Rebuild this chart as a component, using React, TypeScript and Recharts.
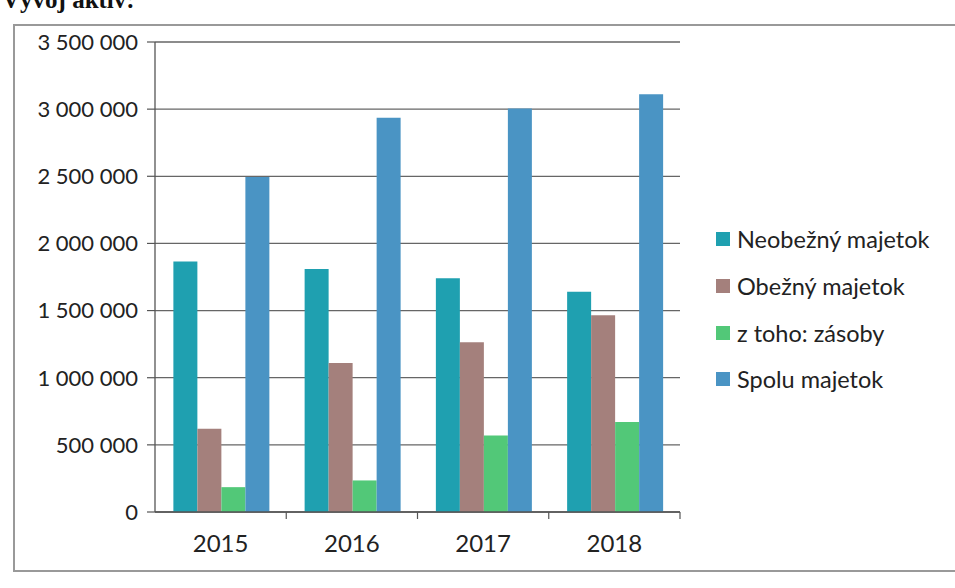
import React from "react";
import { BarChart, Bar, XAxis, YAxis, CartesianGrid } from "recharts";

const years = ["2015", "2016", "2017", "2018"];
const neobezny = [1865000, 1810000, 1740000, 1640000];
const obezny = [620000, 1110000, 1265000, 1465000];
const zasoby = [185000, 235000, 570000, 670000];
const spolu = [2495000, 2935000, 3005000, 3110000];
const yTicks = [0, 500000, 1000000, 1500000, 2000000, 2500000, 3000000, 3500000];

const seriesNames = ["Neobežný majetok", "Obežný majetok", "z toho: zásoby", "Spolu majetok"];
const seriesColors = ["#1FA0B0", "#A4807C", "#52C878", "#4A94C4"];

const data = years.map((y, i) => ({
  year: y,
  neobezny: neobezny[i],
  obezny: obezny[i],
  zasoby: zasoby[i],
  spolu: spolu[i],
}));
const keys = ["neobezny", "obezny", "zasoby", "spolu"];

const W = 955;
const H = 588;
const M = { top: 42, right: 275, bottom: 46, left: 0 };
const Y_W = 155;
const FONT = "Lato, 'Open Sans', sans-serif";

const fmt = (v: number) => String(v).replace(/\B(?=(\d{3})+(?!\d))/g, " ");

const halfBand = (W - M.left - M.right - Y_W) / years.length / 2;

const XTick = (props: any) => {
  const { x, y, payload } = props;
  return (
    <g>
      <line x1={x + halfBand} y1={y - 8} x2={x + halfBand} y2={y - 1} stroke="#555" strokeWidth={1.2} />
      <text x={x} y={y + 32} textAnchor="middle" fontSize={24} fill="#222" fontFamily={FONT}>
        {payload.value}
      </text>
    </g>
  );
};

export default function App() {
  return (
    <div style={{ position: "absolute", left: 0, top: 0, width: W, height: H, background: "#fff", overflow: "hidden" }}>
      <div
        style={{
          position: "absolute",
          left: 2,
          top: -14,
          fontFamily: "'Liberation Serif', 'DejaVu Serif', serif",
          fontWeight: "bold",
          fontSize: 25,
          color: "#111",
        }}
      >
        Vývoj aktív:
      </div>
      <div
        style={{
          position: "absolute",
          left: 13,
          top: 24,
          width: 960,
          height: 548,
          border: "2px solid #999",
          boxSizing: "border-box",
        }}
      />
      <div style={{ position: "absolute", left: 0, top: 0 }}>
        <BarChart width={W} height={H} data={data} margin={M} barCategoryGap="14%" barGap={0}>
          <CartesianGrid vertical={false} stroke="#666" strokeWidth={1.3} />
          <XAxis
            dataKey="year"
            axisLine={{ stroke: "#555", strokeWidth: 1.3 }}
            tickLine={false}
            tick={<XTick />}
            interval={0}
          />
          <YAxis
            width={Y_W}
            domain={[0, 3500000]}
            ticks={yTicks}
            tickFormatter={fmt}
            axisLine={{ stroke: "#555", strokeWidth: 1.3 }}
            tickLine={{ stroke: "#555", strokeWidth: 1.2 }}
            tickSize={8}
            tickMargin={9}
            tick={{ fontSize: 22, fill: "#222", fontFamily: FONT }}
          />
          {keys.map((k, i) => (
            <Bar key={k} dataKey={k} name={seriesNames[i]} fill={seriesColors[i]} isAnimationActive={false} />
          ))}
        </BarChart>
      </div>
      <div style={{ position: "absolute", left: 716, top: 216, fontFamily: FONT, fontSize: 23.5, color: "#222" }}>
        {seriesNames.map((n, i) => (
          <div key={n} style={{ display: "flex", alignItems: "center", height: 46.7 }}>
            <span style={{ width: 14, height: 14, background: seriesColors[i], display: "inline-block", marginRight: 7 }} />
            <span>{n}</span>
          </div>
        ))}
      </div>
    </div>
  );
}
